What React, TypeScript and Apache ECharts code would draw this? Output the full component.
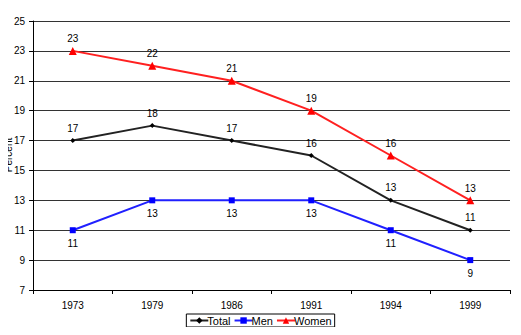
import React, { useEffect, useRef } from "react";
import * as echarts from "echarts";

const years = ["1973", "1979", "1986", "1991", "1994", "1999"];
const total = [17, 18, 17, 16, 13, 11];
const men = [11, 13, 13, 13, 11, 9];
const women = [23, 22, 21, 19, 16, 13];

const FONT = "Liberation Sans, Arial, sans-serif";

export default function App() {
  const ref = useRef<HTMLDivElement>(null);
  useEffect(() => {
    if (!ref.current) return;
    const chart = echarts.init(ref.current, undefined, { renderer: "svg" });
    const label = (pos: string, dist: number) => ({
      show: true,
      position: pos,
      distance: dist,
      color: "#000",
      fontSize: 10,
      fontFamily: FONT,
    });
    chart.setOption({
      animation: false,
      backgroundColor: "#fff",
      textStyle: { fontFamily: FONT },
      grid: { left: 33, right: 11, top: 21, bottom: 45, outerBoundsMode: "none", containLabel: false },
      graphic: [
        {
          type: "text",
          x: 8,
          y: 155,
          rotation: Math.PI / 2,
          style: {
            text: "Percent",
            fill: "#000",
            font: "10px Liberation Sans, Arial, sans-serif",
            align: "center",
            verticalAlign: "middle",
          },
        },
      ],
      legend: {
        bottom: 8,
        left: "center",
        itemWidth: 18,
        itemHeight: 8,
        itemGap: 3,
        padding: [1, 3],
        borderColor: "#000",
        borderWidth: 1,
        textStyle: { fontSize: 11, color: "#000", fontFamily: FONT, padding: [0, 0, 0, -6] },
        data: ["Total", "Men", "Women"],
      },
      xAxis: {
        type: "category",
        data: years,
        boundaryGap: true,
        axisLine: { lineStyle: { color: "#000", width: 1 } },
        axisTick: { show: true, length: 4, inside: false, lineStyle: { color: "#000" } },
        axisLabel: { color: "#000", fontSize: 10, margin: 10, fontFamily: FONT },
      },
      yAxis: {
        type: "value",
        min: 7,
        max: 25,
        interval: 2,
        axisLine: { show: true, lineStyle: { color: "#000" } },
        axisTick: { show: true, length: 4, lineStyle: { color: "#000" } },
        axisLabel: { color: "#000", fontSize: 10, margin: 8, align: "right", fontFamily: FONT },
        splitLine: { show: true, lineStyle: { color: "#333", width: 1 } },
      },
      series: [
        {
          name: "Total",
          type: "line",
          data: total,
          color: "#000",
          lineStyle: { width: 2, color: "#222" },
          symbol: "diamond",
          symbolSize: 5,
          itemStyle: { color: "#000" },
          label: label("top", 5),
        },
        {
          name: "Men",
          type: "line",
          data: men,
          color: "#0000ff",
          lineStyle: { width: 2, color: "#2020ff" },
          symbol: "rect",
          symbolSize: 6,
          itemStyle: { color: "#0000ff" },
          label: label("bottom", 5),
        },
        {
          name: "Women",
          type: "line",
          data: women,
          color: "#ff0000",
          lineStyle: { width: 2, color: "#ff2020" },
          symbol: "triangle",
          symbolSize: 8,
          itemStyle: { color: "#ff0000" },
          label: label("top", 3),
        },
      ],
    });
    return () => chart.dispose();
  }, []);
  return <div ref={ref} style={{ width: 521, height: 335, margin: -8 }} />;
}
